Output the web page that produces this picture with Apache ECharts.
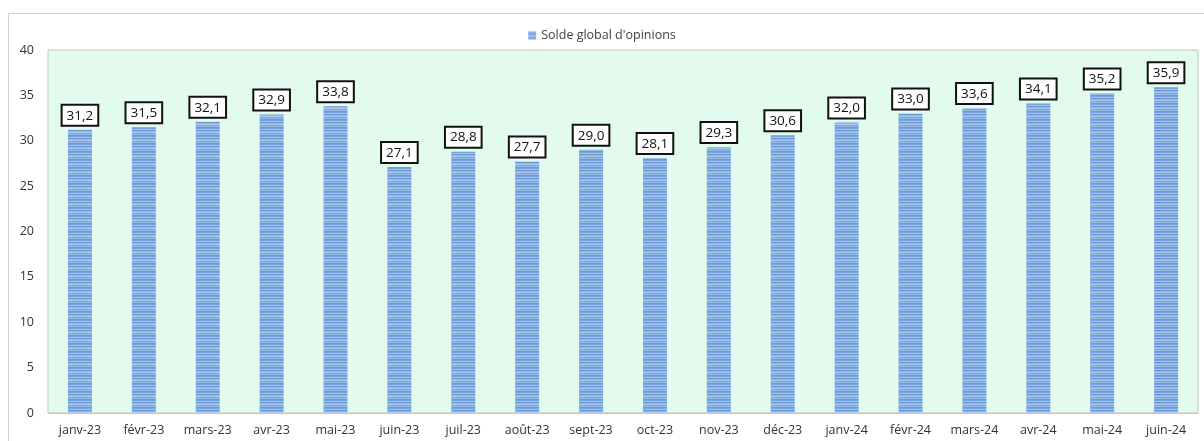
<!DOCTYPE html>
<html><head><meta charset="utf-8">
<style>html,body{margin:0;padding:0;background:#fff}#c{width:1204px;height:441px}</style>
<script src="https://cdn.jsdelivr.net/npm/echarts@6/dist/echarts.min.js"></script>
</head><body><div id="c"></div>
<script>
const categories = ['janv-23','févr-23','mars-23','avr-23','mai-23','juin-23','juil-23','août-23','sept-23','oct-23','nov-23','déc-23','janv-24','févr-24','mars-24','avr-24','mai-24','juin-24'];
const values = [31.2,31.5,32.1,32.9,33.8,27.1,28.8,27.7,29.0,28.1,29.3,30.6,32.0,33.0,33.6,34.1,35.2,35.9];
const seriesName = "Solde global d'opinions";
const yTicks = {min:0, max:40, interval:5};

// striped pattern
const pc = document.createElement('canvas');
pc.width = 4; pc.height = 8;
const g = pc.getContext('2d');
const rows = ['#77a5e0','#9fc0ec','#6d9cdc','#8bb3e8','#b3cef1','#74a2de','#95bbea','#6a9adb'];
rows.forEach((c,i)=>{g.fillStyle=c; g.fillRect(0,i,4,1);});

const chart = echarts.init(document.getElementById('c'), null, {renderer:'canvas'});
const font = "'Open Sans', 'Noto Sans', sans-serif";
chart.setOption({
  animation:false,
  textStyle:{fontFamily:font},
  graphic:[{type:'rect', shape:{x:8.5,y:13.5,width:1210,height:440}, style:{fill:null, stroke:'#d0d0d0', lineWidth:1}, silent:true, z:-10}],
  legend:{top:24, left:'center', itemWidth:8, itemHeight:8, icon:'rect',
    textStyle:{fontSize:12.5, color:'#404040', fontFamily:font}, data:[seriesName]},
  grid:{left:48, right:6, top:50, bottom:28, show:true, backgroundColor:'#e3fbee', borderColor:'#c4c4c4', borderWidth:1},
  xAxis:{type:'category', data:categories,
    axisLine:{show:true, lineStyle:{color:'#c4c4c4'}}, axisTick:{show:false},
    axisLabel:{color:'#333', fontSize:12.5, margin:11, fontFamily:font, interval:0}},
  yAxis:{type:'value', min:yTicks.min, max:yTicks.max, interval:yTicks.interval,
    splitLine:{show:false}, axisLine:{show:false}, axisTick:{show:false},
    axisLabel:{color:'#333', fontSize:12.5, margin:14, fontFamily:font}},
  series:[{name:seriesName, type:'bar', data:values, barWidth:24,
    itemStyle:{color:{image:pc, repeat:'repeat'}},
    label:{show:true, position:'top', distance:5, color:'#111', fontSize:13.5, fontFamily:font,
      backgroundColor:'#fff', borderColor:'#111', borderWidth:2, padding:[3,4,2,4],
      formatter:p=>p.value.toFixed(1).replace('.',',')}
  }]
});
</script></body></html>
